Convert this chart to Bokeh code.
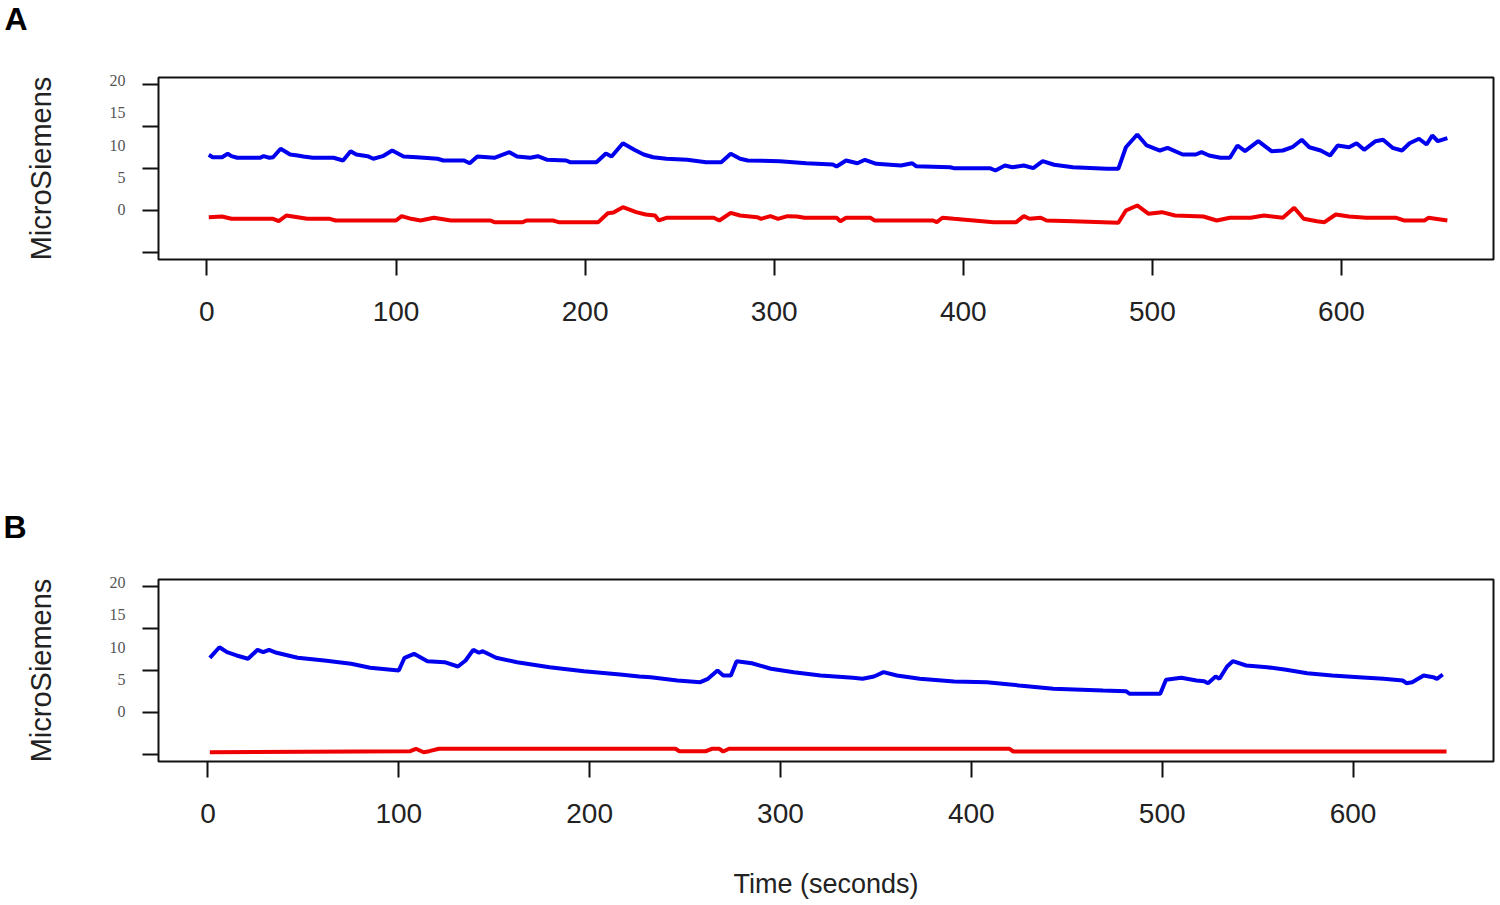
from bokeh.plotting import figure
from bokeh.models import FixedTicker, Range1d
from bokeh.layouts import column
from bokeh.embed import file_html
from bokeh.resources import INLINE

# ---------------- data ----------------
# Panel A
a_blue_t = [1, 3, 8, 11, 13, 16, 28, 30, 33, 35, 39, 44, 48, 51, 56, 67, 72, 76, 79, 85, 88, 93, 98,
            104, 111, 122, 125, 136, 139, 143, 152, 160, 164, 171, 175, 180, 190, 192, 206, 211, 214,
            220, 226, 231, 236, 243, 254, 264, 272, 277, 282, 286, 303, 317, 331, 333, 338, 344, 348,
            354, 367, 373, 375, 393, 395, 414, 417, 422, 426, 432, 437, 442, 448, 458, 476, 482, 486,
            492, 497, 504, 508, 516, 523, 526, 530, 536, 541, 545, 549, 556, 563, 569, 574, 579, 583,
            589, 594, 598, 604, 608, 612, 618, 622, 627, 632, 636, 641, 645, 648, 651, 656]
a_blue_v = [8.49, 8.11, 8.11, 8.64, 8.27, 8.02, 8.02, 8.27, 8.02, 8.11, 9.42, 8.53, 8.38, 8.22, 8.02,
            8.02, 7.60, 9.04, 8.53, 8.27, 7.87, 8.27, 9.15, 8.22, 8.11, 7.87, 7.60, 7.60, 7.18, 8.22,
            8.02, 8.89, 8.22, 8.02, 8.27, 7.71, 7.60, 7.34, 7.34, 8.68, 8.22, 10.28, 9.26, 8.53, 8.11,
            7.87, 7.71, 7.34, 7.34, 8.64, 7.87, 7.60, 7.49, 7.18, 6.98, 6.67, 7.60, 7.18, 7.71, 7.09,
            6.83, 7.18, 6.72, 6.56, 6.41, 6.41, 6.05, 6.83, 6.56, 6.83, 6.41, 7.49, 6.94, 6.56, 6.31,
            6.31, 9.66, 11.63, 9.93, 9.15, 9.57, 8.53, 8.53, 8.89, 8.38, 8.02, 8.02, 9.93, 9.04, 10.59,
            9.04, 9.15, 9.66, 10.81, 9.66, 9.15, 8.38, 9.93, 9.66, 10.28, 9.26, 10.59, 10.81, 9.57,
            9.15, 10.28, 10.97, 10.08, 11.48, 10.59, 11.06]

a_red_t = [1, 8, 13, 35, 38, 42, 48, 53, 65, 68, 100, 103, 108, 113, 120, 129, 150, 152, 167, 169, 183,
           186, 207, 212, 215, 220, 227, 232, 237, 239, 243, 268, 271, 277, 282, 291, 293, 298, 302, 307,
           312, 316, 333, 335, 338, 351, 353, 384, 386, 389, 395, 416, 428, 432, 435, 441, 444, 458, 482,
           486, 492, 498, 505, 512, 527, 534, 541, 552, 559, 569, 575, 580, 587, 591, 597, 604, 613, 629,
           633, 644, 646, 656]
a_red_v = [-1.19, -1.08, -1.44, -1.44, -1.81, -0.93, -1.19, -1.44, -1.44, -1.70, -1.70, -1.03, -1.44,
           -1.70, -1.28, -1.70, -1.70, -1.96, -1.96, -1.70, -1.70, -1.96, -1.96, -0.57, -0.46, 0.36,
           -0.41, -0.77, -0.93, -1.70, -1.28, -1.28, -1.70, -0.51, -0.93, -1.19, -1.44, -1.03, -1.44,
           -1.03, -1.08, -1.28, -1.28, -1.81, -1.28, -1.28, -1.70, -1.70, -1.96, -1.28, -1.44, -1.96,
           -1.96, -1.03, -1.44, -1.28, -1.70, -1.81, -2.06, -0.15, 0.63, -0.66, -0.41, -0.93, -1.08,
           -1.70, -1.28, -1.28, -0.93, -1.28, 0.27, -1.44, -1.81, -1.96, -0.77, -1.08, -1.28, -1.28,
           -1.70, -1.70, -1.28, -1.70]

# Panel B
b_blue_t = [1, 6, 10, 15, 21, 26, 29, 32, 36, 47, 61, 75, 85, 100, 103, 108, 115, 124, 131, 135, 139,
            142, 144, 151, 162, 179, 197, 216, 226, 232, 246, 258, 262, 267, 270, 274, 277, 285, 295,
            307, 321, 338, 343, 349, 354, 361, 373, 391, 408, 425, 443, 469, 481, 483, 499, 502, 510,
            518, 522, 524, 528, 530, 534, 537, 544, 555, 565, 576, 589, 603, 616, 626, 628, 631, 637,
            642, 644, 647]
b_blue_v = [8.33, 9.97, 9.20, 8.69, 8.18, 9.57, 9.20, 9.57, 9.11, 8.33, 7.91, 7.40, 6.78, 6.36, 8.33,
            8.95, 7.80, 7.65, 6.98, 7.91, 9.57, 9.11, 9.35, 8.33, 7.65, 6.87, 6.25, 5.74, 5.43, 5.32,
            4.81, 4.55, 5.07, 6.36, 5.59, 5.59, 7.80, 7.49, 6.63, 6.10, 5.59, 5.23, 5.07, 5.43, 6.10,
            5.59, 5.07, 4.66, 4.55, 4.04, 3.52, 3.26, 3.15, 2.75, 2.75, 4.92, 5.23, 4.81, 4.70, 4.39,
            5.43, 5.07, 6.98, 7.80, 7.14, 6.87, 6.47, 5.94, 5.59, 5.32, 5.07, 4.81, 4.39, 4.55, 5.59,
            5.32, 5.07, 5.74]

b_red_t = [1, 106, 109, 113, 116, 121, 245, 247, 261, 264, 268, 270, 273, 420, 422, 649]
b_red_v = [-6.31, -6.15, -5.78, -6.31, -6.15, -5.78, -5.78, -6.15, -6.15, -5.78, -5.78, -6.20, -5.78,
           -5.78, -6.20, -6.20]

x_ticks = [0, 100, 200, 300, 400, 500, 600]
y_tick_marks = [-6.6, -0.1, 6.4, 12.8, 19.4]   # where the tick marks sit
y_label_vals = [0, 5, 10, 15, 20]              # where the tick labels sit
panel_letters = ["A", "B"]

BLUE = "#0000ee"
RED = "#ee0000"


def style_letter(title, text, offset, standoff, valign):
    title.text = text
    title.align = "left"
    title.offset = offset
    title.standoff = standoff
    title.vertical_align = valign
    title.text_font = "Liberation Sans"
    title.text_font_style = "bold"
    title.text_font_size = "32px"
    title.text_color = "black"


def make_panel(x_lo, x_hi, height, top, bottom, bt, bv, rt, rv, xlabel):
    p = figure(width=1500, height=height,
               x_range=Range1d(x_lo, x_hi), y_range=Range1d(-7.75, 20.47),
               output_backend="svg", toolbar_location=None,
               min_border_left=158, min_border_right=7,
               min_border_top=top, min_border_bottom=bottom)
    p.xgrid.visible = False
    p.ygrid.visible = False
    p.outline_line_color = "#111111"
    p.outline_line_width = 2
    p.background_fill_color = "white"
    p.border_fill_color = "white"

    # x axis
    xa = p.xaxis[0]
    xa.ticker = FixedTicker(ticks=x_ticks, minor_ticks=[])
    xa.major_tick_out = 16
    xa.major_tick_in = 0
    xa.minor_tick_out = 0
    xa.minor_tick_in = 0
    xa.axis_line_color = None
    xa.major_tick_line_color = "#111111"
    xa.major_tick_line_width = 2
    xa.major_label_text_font = "Liberation Sans"
    xa.major_label_text_font_size = "28px"
    xa.major_label_text_color = "#222222"
    xa.major_label_standoff = 26
    if xlabel:
        xa.axis_label = xlabel
        xa.axis_label_text_font = "Liberation Sans"
        xa.axis_label_text_font_size = "27px"
        xa.axis_label_text_font_style = "normal"
        xa.axis_label_text_color = "#222222"
        xa.axis_label_standoff = 43

    # y axis: labels on major ticks (no marks), tick marks on minor ticks
    ya = p.yaxis[0]
    ya.ticker = FixedTicker(ticks=y_label_vals, minor_ticks=y_tick_marks)
    ya.major_tick_out = 0
    ya.major_tick_in = 0
    ya.major_tick_line_color = None
    ya.minor_tick_out = 16
    ya.minor_tick_in = 0
    ya.minor_tick_line_color = "#111111"
    ya.minor_tick_line_width = 2
    ya.axis_line_color = None
    ya.major_label_text_font = "Liberation Serif"
    ya.major_label_text_font_size = "16px"
    ya.major_label_text_color = "#555555"
    ya.major_label_standoff = 17
    ya.axis_label = "MicroSiemens"
    ya.axis_label_text_font = "Liberation Sans"
    ya.axis_label_text_font_size = "29px"
    ya.axis_label_text_font_style = "normal"
    ya.axis_label_text_color = "#222222"
    ya.axis_label_standoff = 50

    p.line(bt, bv, line_color=BLUE, line_width=4)
    p.line(rt, rv, line_color=RED, line_width=4)
    return p


# header strip carrying the letter "A"
head = figure(width=1500, height=45, x_range=Range1d(0, 1), y_range=Range1d(0, 1),
              output_backend="svg", toolbar_location=None,
              x_axis_location=None, y_axis_location=None,
              min_border_left=0, min_border_right=0, min_border_top=0, min_border_bottom=0)
head.xgrid.visible = False
head.ygrid.visible = False
head.outline_line_color = None
style_letter(head.title, panel_letters[0], -154, 0, "top")

pA = make_panel(-25.6, 680.4, 395, 32, 181,
                a_blue_t, a_blue_v, a_red_t, a_red_v, None)
pB = make_panel(-25.9, 673.6, 463, 139, 142,
                b_blue_t, b_blue_v, b_red_t, b_red_v, "Time (seconds)")
style_letter(pB.title, panel_letters[1], -155, 70, "bottom")

layout = column(head, pA, pB, spacing=0)
open("out.html", "w").write(file_html(layout, INLINE))
